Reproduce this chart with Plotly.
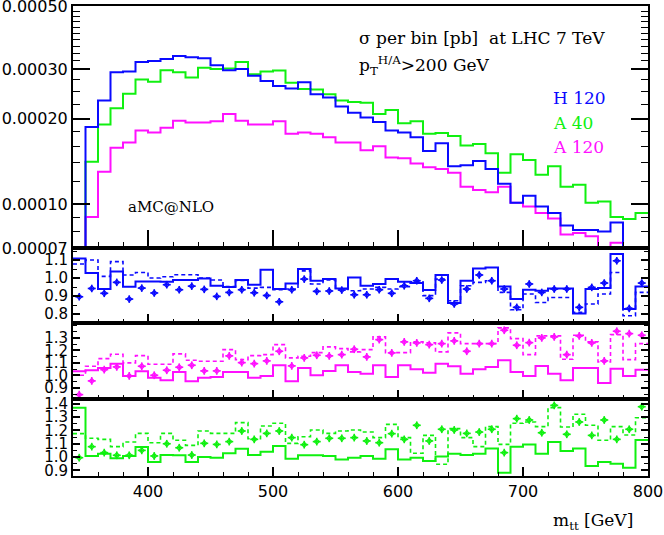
import plotly.graph_objects as go

# 10 GeV bins from 340 to 800 GeV (left edges)
bin_lo = list(range(340, 800, 10))
bin_mid = [b + 5 for b in bin_lo]
x_hi = 800

# sigma per bin [pb]; bins below 0.00007 are off the plot
h120 = [0.50e-4, 1.87e-4, 2.32e-4, 2.92e-4, 2.94e-4, 3.17e-4, 3.20e-4, 3.25e-4, 3.33e-4, 3.30e-4,
        3.27e-4, 3.09e-4, 2.97e-4, 3.00e-4, 2.84e-4, 2.72e-4, 2.61e-4, 2.56e-4, 2.69e-4, 2.44e-4,
        2.38e-4, 2.21e-4, 2.10e-4, 2.02e-4, 1.95e-4, 1.82e-4, 1.79e-4, 1.72e-4, 1.54e-4, 1.64e-4,
        1.36e-4, 1.37e-4, 1.42e-4, 1.33e-4, 1.18e-4, 1.01e-4, 1.07e-4, 0.98e-4, 0.93e-4, 0.84e-4,
        0.81e-4, 0.81e-4, 0.80e-4, 0.86e-4, 0.50e-4, 0.50e-4]
a40 = [0.50e-4, 1.41e-4, 1.91e-4, 2.18e-4, 2.45e-4, 2.75e-4, 2.70e-4, 2.97e-4, 2.92e-4, 2.80e-4,
       3.03e-4, 3.00e-4, 3.01e-4, 3.17e-4, 2.87e-4, 2.94e-4, 2.96e-4, 2.68e-4, 2.55e-4, 2.54e-4,
       2.44e-4, 2.32e-4, 2.29e-4, 2.28e-4, 2.08e-4, 2.15e-4, 1.93e-4, 1.96e-4, 1.77e-4, 1.78e-4,
       1.74e-4, 1.61e-4, 1.63e-4, 1.51e-4, 1.29e-4, 1.50e-4, 1.43e-4, 1.27e-4, 1.36e-4, 1.15e-4,
       1.17e-4, 1.01e-4, 1.02e-4, 0.90e-4, 0.885e-4, 0.93e-4]
a120 = [0.50e-4, 0.90e-4, 1.30e-4, 1.58e-4, 1.65e-4, 1.82e-4, 1.79e-4, 1.86e-4, 1.97e-4, 1.94e-4,
        1.94e-4, 1.96e-4, 2.08e-4, 1.97e-4, 1.91e-4, 1.91e-4, 1.96e-4, 1.77e-4, 1.79e-4, 1.77e-4,
        1.72e-4, 1.65e-4, 1.65e-4, 1.55e-4, 1.60e-4, 1.46e-4, 1.45e-4, 1.39e-4, 1.35e-4, 1.33e-4,
        1.29e-4, 1.15e-4, 1.12e-4, 1.10e-4, 1.15e-4, 1.01e-4, 0.98e-4, 0.93e-4, 0.89e-4, 0.78e-4,
        0.79e-4, 0.77e-4, 0.50e-4, 0.73e-4, 0.50e-4, 0.50e-4]

# ratio panels: solid, dashed, points with error bars
h120_solid = [1.109, 1.028, 0.939, 1.037, 0.952, 0.981, 0.981, 0.979, 0.989, 0.989,
              0.998, 0.957, 0.950, 0.989, 0.963, 1.046, 0.939, 0.970, 1.050, 0.985,
              0.994, 0.942, 1.003, 0.957, 0.967, 0.994, 0.979, 0.972, 0.933, 1.017,
              0.861, 0.985, 1.053, 1.059, 0.953, 0.883, 0.935, 0.929, 0.942, 0.942,
              0.803, 0.939, 0.944, 1.133, 0.828, 0.953]
h120_dash = [1.078, 1.100, 1.009, 1.091, 1.017, 1.031, 1.000, 1.007, 1.018, 1.018,
             1.000, 0.989, 0.953, 0.987, 0.944, 0.948, 0.935, 0.939, 1.040, 0.967,
             0.990, 0.939, 0.929, 0.939, 0.948, 0.939, 0.952, 0.979, 0.902, 0.994,
             0.874, 0.957, 0.976, 0.985, 0.920, 0.824, 0.911, 0.864, 0.892, 0.892,
             0.809, 0.856, 0.911, 1.031, 0.790, 0.920]
h120_pts = [0.896, 0.942, 0.915, 0.976, 0.883, 0.944, 0.917, 0.963, 0.935, 0.955,
            0.937, 0.898, 0.920, 0.935, 0.918, 0.903, 0.868, 0.935, 0.994, 0.926,
            0.928, 0.933, 0.907, 0.907, 0.935, 0.915, 0.957, 0.985, 0.887, 0.989,
            0.856, 0.939, 1.017, 0.985, 0.939, 0.837, 0.967, 0.920, 0.939, 0.939,
            0.837, 0.948, 0.972, 1.096, 0.831, 0.972]

a120_solid = [1.032, 1.040, 1.059, 1.093, 0.995, 1.032, 0.981, 0.960, 1.027, 0.952,
              0.981, 0.987, 1.027, 1.027, 0.981, 0.995, 1.080, 0.952, 1.059, 1.000,
              1.035, 1.080, 1.027, 1.013, 1.080, 0.987, 1.080, 1.048, 1.021, 1.093,
              1.072, 1.013, 1.048, 1.067, 1.120, 1.027, 0.995, 1.075, 1.013, 0.960,
              1.059, 1.059, 0.939, 1.053, 0.995, 1.045]
a120_dash = [1.000, 1.072, 1.133, 1.168, 1.099, 1.157, 1.088, 1.088, 1.171, 1.120,
             1.112, 1.112, 1.205, 1.125, 1.157, 1.165, 1.245, 1.139, 1.152, 1.181,
             1.227, 1.213, 1.187, 1.205, 1.307, 1.181, 1.181, 1.267, 1.259, 1.187,
             1.339, 1.253, 1.253, 1.253, 1.379, 1.293, 1.165, 1.315, 1.315, 1.128,
             1.320, 1.267, 1.107, 1.325, 1.125, 1.253]
a120_pts = [0.845, 0.955, 1.045, 1.067, 0.995, 1.072, 1.000, 1.040, 1.064, 1.080,
            1.035, 1.035, 1.155, 1.101, 1.093, 1.115, 1.192, 1.075, 1.139, 1.160,
            1.155, 1.165, 1.208, 1.147, 1.285, 1.179, 1.267, 1.259, 1.245, 1.253,
            1.275, 1.192, 1.253, 1.253, 1.360, 1.240, 1.261, 1.299, 1.307, 1.165,
            1.315, 1.259, 1.115, 1.352, 1.333, 1.320]

a40_solid = [1.372, 1.008, 1.025, 0.990, 1.008, 1.075, 0.962, 1.015, 1.013, 0.962,
             1.000, 0.995, 1.028, 1.063, 1.015, 1.040, 1.083, 0.987, 1.013, 1.013,
             1.008, 0.982, 0.995, 1.008, 0.987, 1.058, 0.982, 0.995, 0.970, 1.003,
             1.025, 1.015, 1.025, 1.065, 0.882, 1.078, 1.095, 1.025, 1.113, 1.045,
             1.065, 0.932, 0.962, 0.950, 0.920, 1.128]
a40_dash = [1.176, 1.141, 1.133, 1.078, 1.113, 1.178, 1.108, 1.178, 1.126, 1.088,
            1.196, 1.178, 1.178, 1.259, 1.138, 1.234, 1.254, 1.103, 1.153, 1.204,
            1.178, 1.196, 1.204, 1.188, 1.146, 1.246, 1.146, 1.028, 1.163, 0.945,
            1.214, 1.146, 1.078, 1.229, 1.095, 1.254, 1.264, 1.229, 1.372, 1.226,
            1.322, 1.239, 1.126, 1.229, 1.166, 1.296]
a40_pts = [0.995, 1.078, 1.033, 1.013, 1.013, 1.050, 1.008, 1.100, 1.070, 1.015,
           1.103, 1.095, 1.116, 1.196, 1.133, 1.178, 1.196, 1.146, 1.093, 1.116,
           1.141, 1.141, 1.146, 1.121, 1.108, 1.176, 1.133, 1.239, 1.121, 1.209,
           1.204, 1.178, 1.188, 1.209, 1.033, 1.289, 1.279, 1.183, 1.389, 1.171,
           1.264, 1.163, 1.279, 1.133, 1.209, 1.379]

BLUE = "#0a0aff"
GREEN = "#10f010"
MAGENTA = "#ff10ff"
SERIF = "DejaVu Serif"
SANS = "DejaVu Sans"

# plot area in pixels (left, right, top, bottom)
L, R, T, B = 73, 648, 6, 476
W, H = 664, 535


def px_x(px):
    return (px - L) / (R - L)


def px_y(py):
    return (B - py) / (B - T)


def steps(vals):
    """x/y for an hv step line covering every bin."""
    return bin_lo + [x_hi], list(vals) + [vals[-1]]


fig = go.Figure()

# main panel
for vals, col in [(a40, GREEN), (a120, MAGENTA), (h120, BLUE)]:
    xs, ys = steps(vals)
    fig.add_trace(go.Scatter(x=xs, y=ys, mode="lines", line_shape="hv",
                             line=dict(color=col, width=2), xaxis="x", yaxis="y",
                             showlegend=False, hoverinfo="skip"))

# ratio panels
ratio_sets = [
    ("2", BLUE, h120_solid, h120_dash, h120_pts, 0.021),
    ("3", MAGENTA, a120_solid, a120_dash, a120_pts, 0.031),
    ("4", GREEN, a40_solid, a40_dash, a40_pts, 0.029),
]
for ax, col, solid, dash, pts, err in ratio_sets:
    xs, ys = steps(solid)
    fig.add_trace(go.Scatter(x=xs, y=ys, mode="lines", line_shape="hv",
                             line=dict(color=col, width=2), xaxis="x" + ax, yaxis="y" + ax,
                             showlegend=False, hoverinfo="skip"))
    xs, ys = steps(dash)
    fig.add_trace(go.Scatter(x=xs, y=ys, mode="lines", line_shape="hv",
                             line=dict(color=col, width=1.6, dash="4px,3px"),
                             xaxis="x" + ax, yaxis="y" + ax,
                             showlegend=False, hoverinfo="skip"))
    fig.add_trace(go.Scatter(
        x=bin_mid, y=pts, mode="markers",
        marker=dict(symbol="diamond-open", size=4, color=col, line=dict(width=1.2, color=col)),
        error_y=dict(type="constant", value=err, thickness=1.6, width=0, color=col),
        error_x=dict(type="constant", value=3.2, thickness=1.6, width=0, color=col),
        xaxis="x" + ax, yaxis="y" + ax, showlegend=False, hoverinfo="skip"))

# panel boundaries in pixels
panels = {"": (248, 6), "2": (323, 248), "3": (399, 323), "4": (476, 399)}

axis_common = dict(showline=True, linecolor="black", linewidth=2, ticks="inside",
                   tickcolor="black", tickwidth=1.5, showgrid=False, zeroline=False,
                   automargin=False, ticklabeloverflow="allow",
                   tickfont=dict(family=SANS, size=16, color="black"))

layout_axes = {}
for key, (bot, top) in panels.items():
    main = key == ""
    layout_axes["xaxis" + key] = dict(
        axis_common, domain=[0, 1], anchor="y" + key, range=[340, 800],
        mirror=True, tickmode="array", tickvals=[400, 500, 600, 700, 800],
        ticklen=18 if main else 9,
        minor=dict(ticks="inside", dtick=20, tick0=340, ticklen=6 if main else 4,
                   tickwidth=1.2, tickcolor="black"),
        showticklabels=(key == "4"),
        matches=None if main else "x",
    )

layout_axes["yaxis"] = dict(
    axis_common, domain=[px_y(248), px_y(6)], anchor="x", type="log",
    range=[-4.1552, -3.3008], mirror="ticks", ticklen=17,
    tickmode="array", tickvals=[7e-5, 1e-4, 2e-4, 3e-4, 5e-4],
    ticktext=["0.00007", "0.00010", "0.00020", "0.00030", "0.00050"],
    minor=dict(ticks="inside", ticklen=7, tickwidth=1.2, tickcolor="black",
               tickmode="array",
               tickvals=[8e-5, 9e-5, 1.2e-4, 1.4e-4, 1.6e-4, 1.8e-4, 2.25e-4, 2.5e-4, 2.75e-4,
                         3.2e-4, 3.4e-4, 3.6e-4, 3.8e-4, 4e-4, 4.2e-4, 4.4e-4, 4.6e-4, 4.8e-4]),
)

ratio_axes = {
    "2": ([0.750, 1.167], [0.8, 0.9, 1.0, 1.1]),
    "3": ([0.810, 1.418], [0.9, 1.0, 1.1, 1.2, 1.3]),
    "4": ([0.857, 1.437], [0.9, 1.0, 1.1, 1.2, 1.3, 1.4]),
}
for key, (rng, tv) in ratio_axes.items():
    bot, top = panels[key]
    layout_axes["yaxis" + key] = dict(
        axis_common, domain=[px_y(bot), px_y(top)], anchor="x" + key, range=rng,
        mirror="ticks", ticklen=7, tickmode="array", tickvals=tv,
        ticktext=[f"{v:.1f}" for v in tv],
        tickfont=dict(family=SANS, size=15, color="black"),
        minor=dict(ticks="inside", dtick=0.05, tick0=0.8, ticklen=4, tickwidth=1.2,
                   tickcolor="black"),
    )

annotations = [
    dict(x=px_x(357), y=px_y(38), text="σ per bin [pb]&nbsp;&nbsp;at LHC 7 TeV",
         font=dict(family=SERIF, size=17, color="black")),
    dict(x=px_x(357), y=px_y(66), text="p<sub>T</sub><sup>H/A</sup>>200 GeV",
         font=dict(family=SERIF, size=17, color="black")),
    dict(x=px_x(551), y=px_y(98), text="H 120", font=dict(family=SERIF, size=17, color=BLUE)),
    dict(x=px_x(551), y=px_y(123), text="A 40", font=dict(family=SERIF, size=17, color=GREEN)),
    dict(x=px_x(551), y=px_y(147), text="A 120", font=dict(family=SERIF, size=17, color=MAGENTA)),
    dict(x=px_x(126), y=px_y(207), text="aMC@NLO", font=dict(family=SERIF, size=15, color="black")),
    dict(x=px_x(551), y=px_y(521), text="m<sub>tt</sub> [GeV]",
         font=dict(family=SERIF, size=17, color="black")),
]
for a in annotations:
    a.update(xref="paper", yref="paper", xanchor="left", yanchor="middle", showarrow=False)

fig.update_layout(
    template="none",
    width=W, height=H,
    margin=dict(l=L, r=W - R, t=T, b=H - B, autoexpand=False),
    paper_bgcolor="white", plot_bgcolor="white",
    annotations=annotations,
    **layout_axes,
)

# drop the default page margin so the figure sits at the window's corner
fig.write_html(
    "out.html",
    config={"displayModeBar": False},
    post_script="document.body.style.margin='0';"
                "document.documentElement.style.overflow='hidden';",
)
